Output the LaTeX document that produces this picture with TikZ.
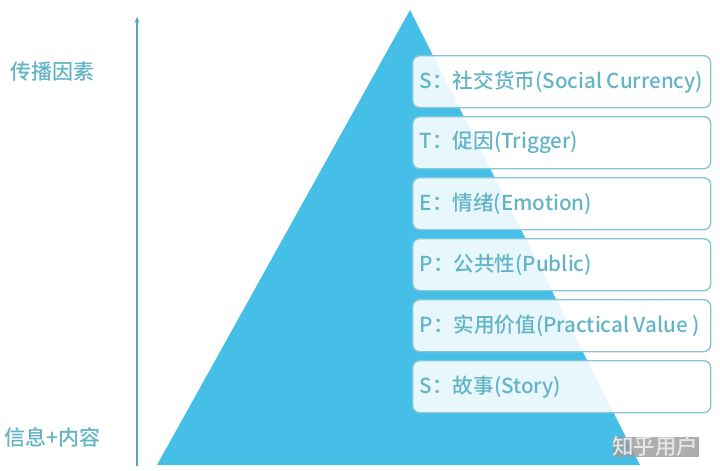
\documentclass[tikz,border=0pt]{standalone}
\usepackage{fontspec}
\setmainfont{Noto Sans CJK SC}[UprightFont=* Medium]
\usetikzlibrary{arrows.meta,shadows}
\definecolor{tri}{HTML}{45BFE8}
\definecolor{txt}{HTML}{62B4C6}
\definecolor{edge}{HTML}{86C6D6}
\newcommand\lvtext[1]{\makebox[284pt][l]{#1}}
\tikzset{
  lvl/.style={draw=edge, line width=1.4pt, fill=white, fill opacity=0.88, text opacity=1,
    rounded corners=7pt, minimum width=298pt, minimum height=52pt, anchor=north west,
    text=txt, font=\fontsize{20.6}{24}\selectfont, inner xsep=7pt},
  side/.style={text=txt, font=\fontsize{21}{25}\selectfont, anchor=west, inner sep=0pt}
}
\begin{document}
\begin{tikzpicture}[x=1pt,y=-1pt]
\useasboundingbox (0,0) rectangle (720,471);
\fill[tri] (410,10) -- (640,465) -- (157,465) -- cycle;
\coordinate (abot) at (137,466);
\coordinate (atop) at (137,17);
\draw[txt!90!blue, line width=1.6pt, -{Stealth[length=6pt,width=5pt]}] (abot) -- (atop);
\node[side] (top) at (10,72) {传播因素};
\node[side] (bot) at (4,437) {信息+内容};
\node[lvl] (s1) at (412,55) {\lvtext{S：社交货币(Social Currency)}};
\node[lvl] (s2) at (412,116) {\lvtext{T：促因(Trigger)}};
\node[lvl] (s3) at (412,177) {\lvtext{E：情绪(Emotion)}};
\node[lvl] (s4) at (412,238) {\lvtext{P：公共性(Public)}};
\node[lvl] (s5) at (412,299) {\lvtext{P：实用价值(Practical Value )}};
\node[lvl] (s6) at (412,360) {\lvtext{S：故事(Story)}};
\node[text=gray!20, font=\fontsize{21.5}{25}\selectfont, anchor=west, inner sep=0pt,
  drop shadow={shadow xshift=0.8pt, shadow yshift=-0.8pt, fill=gray!80, opacity=0.8}] (wm) at (612,446) {知乎用户};
\end{tikzpicture}
\end{document}
